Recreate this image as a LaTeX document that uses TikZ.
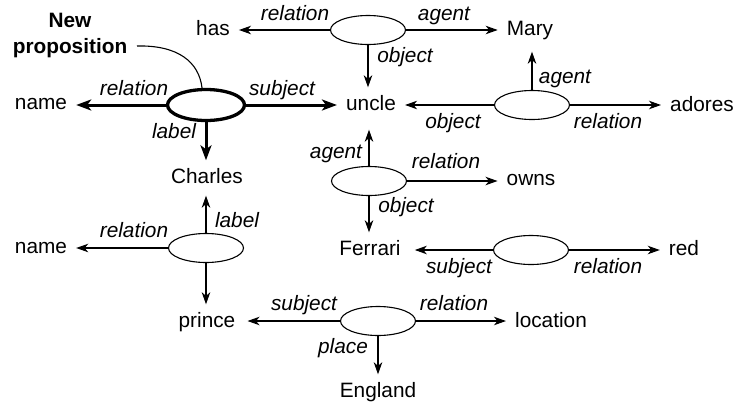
\documentclass[tikz,border=0pt]{standalone}
\usepackage{fontspec}
\setmainfont{Liberation Sans}
\usetikzlibrary{shapes.geometric,arrows.meta}
\begin{document}
\begin{tikzpicture}[x=1pt,y=-1pt,
  word/.style={font=\fontsize{20.8}{26}\selectfont, text height=15pt, text depth=4pt, inner xsep=9pt, inner ysep=8pt},
  lab/.style={font=\fontsize{20.8}{26}\selectfont\itshape, text height=15pt, text depth=4pt, inner sep=0pt},
  headline/.style={font=\fontsize{20.8}{26}\selectfont\bfseries, align=center, inner sep=0pt},
  prop/.style={ellipse, draw, line width=1.1pt, minimum width=75pt, minimum height=29pt, inner sep=0pt},
  newprop/.style={prop, line width=3.3pt, minimum width=77pt, minimum height=31pt},
  link/.style={line width=1.1pt, -{Stealth[length=12pt,width=8.5pt,inset=3.5pt]}},
  boldlink/.style={line width=3pt, -{Stealth[length=15pt,width=11pt,inset=4pt]}},
  pointer/.style={line width=1.1pt},
]
\useasboundingbox (0,0) rectangle (745,405);

% proposition ellipses
\node[prop] (p1) at (368,30) {};
\node[newprop] (p0) at (206,105) {};
\node[prop] (p2) at (532,105) {};
\node[prop] (p3) at (369,181) {};
\node[prop] (p4) at (206,248) {};
\node[prop] (p5) at (531,250) {};
\node[prop] (p6) at (378,321) {};

% concept words
\node[word] (has) at (213,30) {has};
\node[word] (mary) at (530,30) {Mary};
\node[word] (name1) at (41,104) {name};
\node[word] (uncle) at (371,105) {uncle};
\node[word] (adores) at (702,106) {adores};
\node[word] (charles) at (207,178) {Charles};
\node[word] (owns) at (531,180) {owns};
\node[word] (name2) at (41,248) {name};
\node[word] (ferrari) at (370,250) {Ferrari};
\node[word] (red) at (684,250) {red};
\node[word] (prince) at (207,322) {prince};
\node[word] (location) at (551,322) {location};
\node[word] (england) at (378,392) {England};

% new proposition callout
\node[headline] (np) at (70,35) {New\\proposition};
\coordinate (npc) at (137,46);
\draw[pointer] (npc) .. controls (178,45) and (199,62) .. ([xshift=-4pt]p0.north);

% connectors
\draw[link] (p1.west) -- (p1.west -| has.east);
\draw[link] (p1.east) -- (p1.east -| mary.west);
\draw[link] (p1.south) -- (p1.south |- uncle.north);

\draw[boldlink] (p0.west) -- (p0.west -| name1.east);
\draw[boldlink] (p0.east) -- (p0.east -| uncle.west);
\draw[boldlink] (p0.south) -- (p0.south |- charles.north);

\draw[link, shorten >=4pt] (p2.north) -- (p2.north |- mary.south);
\draw[link] (p2.west) -- (p2.west -| uncle.east);
\draw[link] (p2.east) -- (p2.east -| adores.west);

\draw[link, shorten >=7pt] (p3.north) -- (p3.north |- uncle.south);
\draw[link] (p3.east) -- (p3.east -| owns.west);
\draw[link] (p3.south) -- (p3.south |- ferrari.north);

\draw[link, shorten >=5pt] (p5.west) -- (p5.west -| ferrari.east);
\draw[link] (p5.east) -- (p5.east -| red.west);

\draw[link] (p4.north) -- (p4.north |- charles.south);
\draw[link] (p4.west) -- (p4.west -| name2.east);
\draw[link] (p4.south) -- (p4.south |- prince.north);

\draw[link, shorten >=3pt] (p6.west) -- (p6.west -| prince.east);
\draw[link] (p6.east) -- (p6.east -| location.west);
\draw[link] (p6.south) -- (p6.south |- england.north);

% connector labels
\node[lab] (l1) at (295,15) {relation};
\node[lab] (l2) at (444,15) {agent};
\node[lab] (l3) at (405,57) {object};
\node[lab] (l4) at (134,90) {relation};
\node[lab] (l5) at (282,90) {subject};
\node[lab] (l6) at (174,133) {label};
\node[lab] (l7) at (565,78) {agent};
\node[lab] (l8) at (453,123) {object};
\node[lab] (l9) at (608,123) {relation};
\node[lab] (l10) at (336,153) {agent};
\node[lab] (l11) at (446,163) {relation};
\node[lab] (l12) at (406,207) {object};
\node[lab] (l13) at (459,268) {subject};
\node[lab] (l14) at (608,268) {relation};
\node[lab] (l15) at (237,222) {label};
\node[lab] (l16) at (134,232) {relation};
\node[lab] (l17) at (304,305) {subject};
\node[lab] (l18) at (454,305) {relation};
\node[lab] (l19) at (343,348) {place};
\end{tikzpicture}
\end{document}
